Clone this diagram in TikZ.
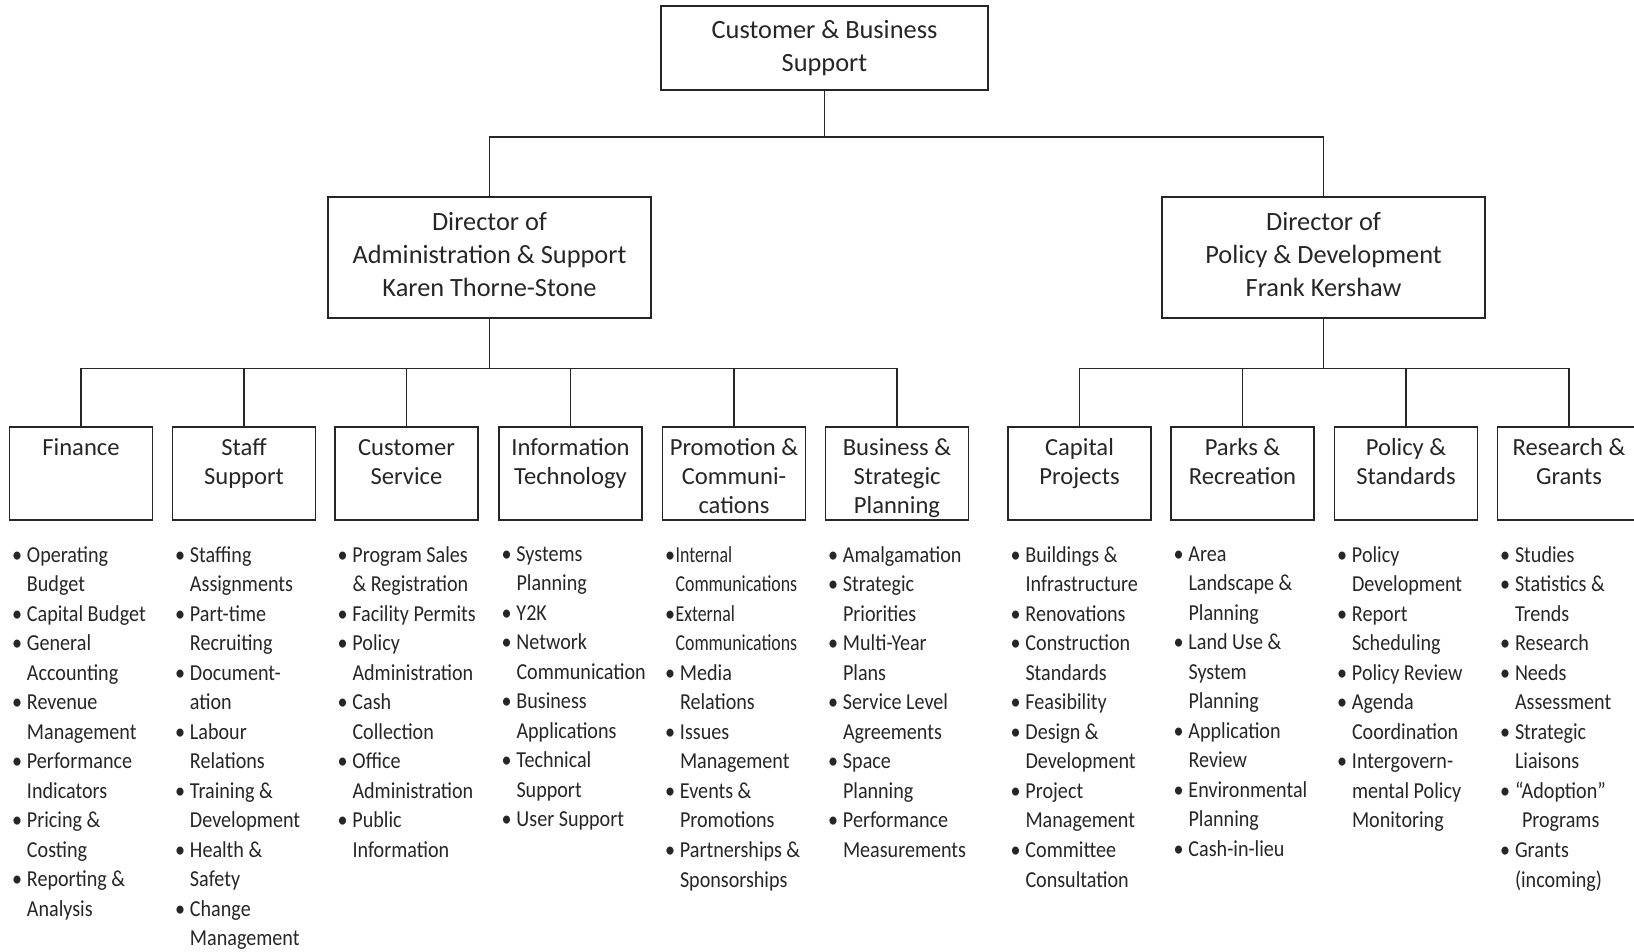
\documentclass[tikz,border=0pt]{standalone}
\usepackage{fontspec}
\setmainfont{Carlito}
\newfontfamily\listfont[FakeStretch=0.88]{Carlito}
\newfontfamily\tightfont[FakeStretch=0.78]{Carlito}
\usepackage{xcolor}
\definecolor{ink}{RGB}{38,38,38}
\usetikzlibrary{positioning}

% bullet and hanging indent for the duty lists
\newcommand{\bl}{\makebox[8.5pt][l]{\textbullet}}
\newcommand{\ind}{\hspace*{8.5pt}}
% taller first line so unit names sit near the top of their boxes
\newcommand{\lift}{\rule{0pt}{15.5pt}}

\begin{document}
\begin{tikzpicture}[
  head/.style={rectangle, draw=ink, line width=0.9pt, minimum width=6.54cm, minimum height=1.69cm, align=center, font=\fontsize{15}{18.4}\selectfont, text=ink},
  director/.style={rectangle, draw=ink, line width=0.9pt, minimum width=6.46cm, minimum height=2.43cm, align=center, font=\fontsize{15}{18.8}\selectfont, text=ink, execute at end node=\rule[-4pt]{0pt}{1pt}},
  unit/.style={rectangle, draw=ink, line width=0.9pt, inner ysep=0pt, minimum width=2.86cm, minimum height=1.87cm, align=center, font=\fontsize{14}{16.5}\selectfont, text=ink, execute at end node=\rule[-3pt]{0pt}{3pt}},
  duties/.style={align=left, inner sep=0pt, font=\listfont\fontsize{13}{16.8}\selectfont, text=ink},
  link/.style={draw=ink, line width=0.7pt}
]
  \useasboundingbox (0,0) rectangle (32.68,-19.02);

  % top of the chart
  \node[head] (cbs) at (16.49,-0.96) {Customer \& Business\\Support};

  \node[director] (admin) at (9.79,-5.15) {Director of\\Administration \& Support\\Karen Thorne-Stone};
  \node[director] (policy) at (26.47,-5.15) {Director of\\Policy \& Development\\Frank Kershaw};

  \draw[link] (cbs.south) -- ++(0,-0.92) -| (admin.north);
  \draw[link] (cbs.south) -- ++(0,-0.92) -| (policy.north);

  % administration & support units
  \node[unit] (fin) at (1.62,-9.47) {\lift Finance\\ \\ };
  \node[unit] (staff) at (4.88,-9.47) {\lift Staff\\Support\\ };
  \node[unit] (cust) at (8.13,-9.47) {\lift Customer\\Service\\ };
  \node[unit] (it) at (11.41,-9.47) {\lift Information\\Technology\\ };
  \node[unit] (promo) at (14.68,-9.47) {\lift Promotion \&\\Communi-\\cations};
  \node[unit] (bsp) at (17.94,-9.47) {\lift Business \&\\Strategic\\Planning};

  % policy & development units
  \node[unit] (capital) at (21.59,-9.47) {\lift Capital\\Projects\\ };
  \node[unit] (parks) at (24.85,-9.47) {\lift Parks \&\\Recreation\\ };
  \node[unit] (stds) at (28.12,-9.47) {\lift Policy \&\\Standards\\ };
  \node[unit] (research) at (31.38,-9.47) {\lift Research \&\\Grants\\ };

  \draw[link] (admin.south) -- ++(0,-0.99) -| (fin.north);
  \draw[link] (admin.south) -- ++(0,-0.99) -| (staff.north);
  \draw[link] (admin.south) -- ++(0,-0.99) -| (cust.north);
  \draw[link] (admin.south) -- ++(0,-0.99) -| (it.north);
  \draw[link] (admin.south) -- ++(0,-0.99) -| (promo.north);
  \draw[link] (admin.south) -- ++(0,-0.99) -| (bsp.north);

  \draw[link] (policy.south) -- ++(0,-0.99) -| (capital.north);
  \draw[link] (policy.south) -- ++(0,-0.99) -| (parks.north);
  \draw[link] (policy.south) -- ++(0,-0.99) -| (stds.north);
  \draw[link] (policy.south) -- ++(0,-0.99) -| (research.north);

  % duty lists under each unit
  \node[duties, below right=0.5cm and 0.06cm of fin.south west] (finlist) {\bl Operating\\\ind Budget\\\bl Capital Budget\\\bl General\\\ind Accounting\\\bl Revenue\\\ind Management\\\bl Performance\\\ind Indicators\\\bl Pricing \&\\\ind Costing\\\bl Reporting \&\\\ind Analysis};
  \node[duties, below right=0.5cm and 0.06cm of staff.south west] (stafflist) {\bl Staffing\\\ind Assignments\\\bl Part-time\\\ind Recruiting\\\bl Document-\\\ind ation\\\bl Labour\\\ind Relations\\\bl Training \&\\\ind Development\\\bl Health \&\\\ind Safety\\\bl Change\\\ind Management};
  \node[duties, below right=0.5cm and 0.06cm of cust.south west] (custlist) {\bl Program Sales\\\ind \& Registration\\\bl Facility Permits\\\bl Policy\\\ind Administration\\\bl Cash\\\ind Collection\\\bl Office\\\ind Administration\\\bl Public\\\ind Information};
  \node[duties, below right=0.5cm and 0.06cm of it.south west] (itlist) {\bl Systems\\\ind Planning\\\bl Y2K\\\bl Network\\\ind Communication\\\bl Business\\\ind Applications\\\bl Technical\\\ind Support\\\bl User Support};
  \node[duties, below right=0.5cm and 0.06cm of promo.south west] (promolist) {\makebox[6pt][l]{\textbullet}{\tightfont Internal}\\\hspace*{6pt}{\tightfont Communications}\\\makebox[6pt][l]{\textbullet}{\tightfont External}\\\hspace*{6pt}{\tightfont Communications}\\\bl Media\\\ind Relations\\\bl Issues\\\ind Management\\\bl Events \&\\\ind Promotions\\\bl Partnerships \&\\\ind Sponsorships};
  \node[duties, below right=0.5cm and 0.06cm of bsp.south west] (bsplist) {\bl Amalgamation\\\bl Strategic\\\ind Priorities\\\bl Multi-Year\\\ind Plans\\\bl Service Level\\\ind Agreements\\\bl Space\\\ind Planning\\\bl Performance\\\ind Measurements};
  \node[duties, below right=0.5cm and 0.06cm of capital.south west] (capitallist) {\bl Buildings \&\\\ind Infrastructure\\\bl Renovations\\\bl Construction\\\ind Standards\\\bl Feasibility\\\bl Design \&\\\ind Development\\\bl Project\\\ind Management\\\bl Committee\\\ind Consultation};
  \node[duties, below right=0.5cm and 0.06cm of parks.south west] (parkslist) {\bl Area\\\ind Landscape \&\\\ind Planning\\\bl Land Use \&\\\ind System\\\ind Planning\\\bl Application\\\ind Review\\\bl Environmental\\\ind Planning\\\bl Cash-in-lieu};
  \node[duties, below right=0.5cm and 0.06cm of stds.south west] (stdslist) {\bl Policy\\\ind Development\\\bl Report\\\ind Scheduling\\\bl Policy Review\\\bl Agenda\\\ind Coordination\\\bl Intergovern-\\\ind mental Policy\\\ind Monitoring};
  \node[duties, below right=0.5cm and 0.06cm of research.south west] (researchlist) {\bl Studies\\\bl Statistics \&\\\ind Trends\\\bl Research\\\bl Needs\\\ind Assessment\\\bl Strategic\\\ind Liaisons\\\bl “Adoption”\\\ind\hspace*{4pt}Programs\\\bl Grants\\\ind (incoming)};
\end{tikzpicture}
\end{document}
